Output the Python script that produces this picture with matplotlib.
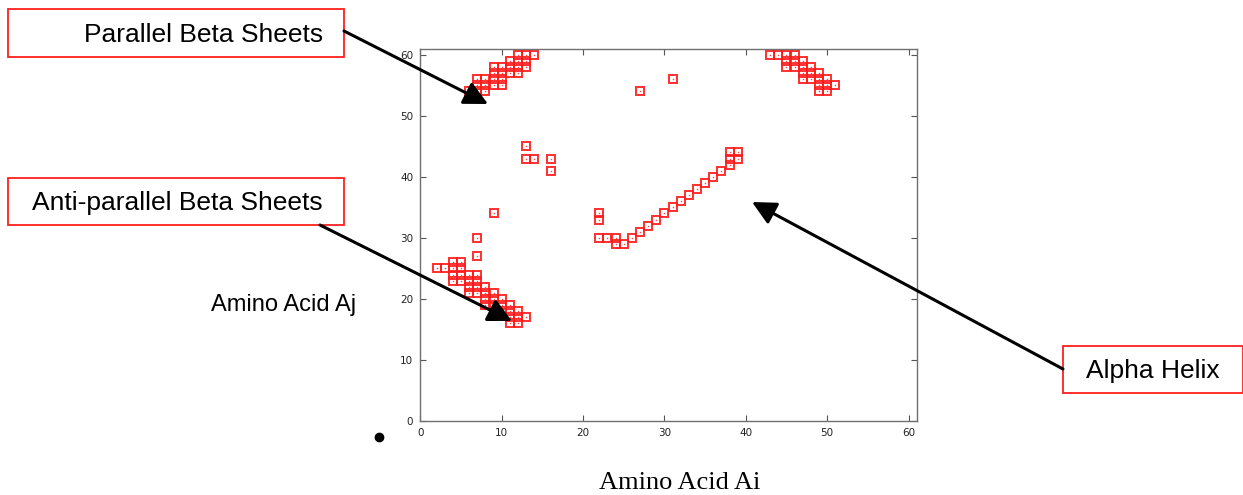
import matplotlib
matplotlib.use("Agg")
import matplotlib.pyplot as plt
from matplotlib.patches import Rectangle, FancyArrowPatch

# ---------------- data (residue contact pairs) ----------------
par_left_i = [12, 13, 14, 11, 12, 13, 9, 10, 11, 12, 13, 9, 10, 11, 12, 7, 8, 9, 10, 7, 8, 9, 10, 6, 7, 8]
par_left_j = [60, 60, 60, 59, 59, 59, 58, 58, 58, 58, 58, 57, 57, 57, 57, 56, 56, 56, 56, 55, 55, 55, 55, 54, 54, 54]

par_right_i = [43, 44, 45, 46, 45, 46, 47, 45, 46, 47, 48, 47, 48, 49, 47, 48, 49, 50, 49, 50, 51, 49, 50]
par_right_j = [60, 60, 60, 60, 59, 59, 59, 58, 58, 58, 58, 57, 57, 57, 56, 56, 56, 56, 55, 55, 55, 54, 54]

anti_i = [9, 7, 7, 4, 5, 2, 3, 4, 5, 4, 5, 6, 7, 4, 5, 6, 7, 6, 7, 8, 6, 7, 8, 9,
          8, 9, 10, 8, 9, 10, 11, 10, 11, 12, 11, 12, 13, 11, 12]
anti_j = [34, 30, 27, 26, 26, 25, 25, 25, 25, 24, 24, 24, 24, 23, 23, 23, 23, 22, 22, 22, 21, 21, 21, 21,
          20, 20, 20, 19, 19, 19, 19, 18, 18, 18, 17, 17, 17, 16, 16]

helix_i = [22, 22, 22, 23, 24, 24, 25, 26, 27, 28, 29, 30, 31, 32, 33, 34, 35, 36, 37, 38, 38, 39, 38, 39]
helix_j = [34, 33, 30, 30, 30, 29, 29, 30, 31, 32, 33, 34, 35, 36, 37, 38, 39, 40, 41, 42, 43, 43, 44, 44]

other_i = [13, 13, 14, 16, 16, 27, 31]
other_j = [45, 43, 43, 43, 41, 54, 56]

x_ticks = [0, 10, 20, 30, 40, 50, 60]
y_ticks = [0, 10, 20, 30, 40, 50, 60]

callout_labels = ["Parallel Beta Sheets", "Anti-parallel Beta Sheets", "Alpha Helix"]
x_label = "Amino Acid Ai"
y_label = "Amino Acid Aj"

# ---------------- figure ----------------
W, H = 1243, 495
fig = plt.figure(figsize=(W / 100, H / 100), dpi=100)

def fx(px):
    return px / W

def fy(py):
    return 1 - py / H

ax = fig.add_axes([fx(420.3), fy(421), fx(916.7) - fx(420.3), fy(48.7) - fy(421)])
ax.set_xlim(0, 61)
ax.set_ylim(0, 61)

red = "#ff1a1a"
groups = [(par_left_i, par_left_j), (par_right_i, par_right_j), (anti_i, anti_j),
          (helix_i, helix_j), (other_i, other_j)]
for gi, gj in groups:
    ax.plot(gi, gj, linestyle="none", marker="s", markersize=5.6, markerfacecolor="none",
            markeredgecolor=red, markeredgewidth=1.4, alpha=0.9)
    ax.plot(gi, gj, linestyle="none", marker="s", markersize=1.0, markerfacecolor=red,
            markeredgecolor="none", alpha=0.8)

ax.set_xticks(x_ticks)
ax.set_yticks(y_ticks)
ax.tick_params(direction="in", length=4, width=0.8, color="#555555", labelsize=7.5,
               labelcolor="#222222", top=True, right=True, pad=5)
for s in ax.spines.values():
    s.set_color("#707070")
    s.set_linewidth(1.0)

# axis labels placed as free text like the reference
fig.text(fx(284), fy(305), y_label, ha="center", va="center", fontsize=17,
         family="Liberation Sans", color="black")
fig.text(fx(680), fy(483), x_label, ha="center", va="center", fontsize=19,
         family="Liberation Serif", color="black")

# stray bullet
fig.add_artist(plt.Line2D([fx(379)], [fy(437)], marker="o", markersize=6,
                          color="black", transform=fig.transFigure))

# callout boxes
boxes = [
    (8, 9, 344, 57, 323, 35),
    (8, 178, 344, 225, 323, 203),
    (1063, 346, 1243, 393, 1220, 371),
]
for (x0, y0, x1, y1, tx, ty), lab in zip(boxes, callout_labels):
    fig.add_artist(Rectangle((fx(x0), fy(y1)), fx(x1) - fx(x0), fy(y0) - fy(y1),
                             transform=fig.transFigure, facecolor="white",
                             edgecolor="#ff2020", linewidth=1.3, clip_on=False))
    fig.text(fx(tx), fy(ty), lab, ha="right", va="center", fontsize=19,
             family="Liberation Sans", color="black")

# arrows
arrows = [((344, 31), (488, 104)), ((320, 225), (512, 321)), ((1063, 369), (752, 202))]
for (sx, sy), (ex, ey) in arrows:
    fig.add_artist(FancyArrowPatch(
        (fx(sx), fy(sy)), (fx(ex), fy(ey)), transform=fig.transFigure,
        arrowstyle="-|>,head_length=1.2,head_width=0.6", mutation_scale=12,
        color="black", linewidth=2.2, shrinkA=0, shrinkB=0))

fig.savefig("out.png", dpi=100)
